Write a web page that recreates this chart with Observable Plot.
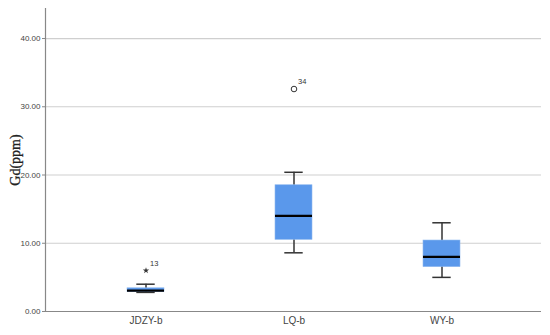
<!DOCTYPE html>
<html>
<head>
<meta charset="utf-8">
<script src="https://cdn.jsdelivr.net/npm/d3@7"></script>
<script src="https://cdn.jsdelivr.net/npm/@observablehq/plot@0.6"></script>
<style>
  html, body { margin: 0; padding: 0; background: #fff; }
  #chart { width: 550px; height: 335px; }
</style>
</head>
<body>
<div id="chart"></div>
<script>
const groups = ["JDZY-b", "LQ-b", "WY-b"];
const whiskerLow = [2.8, 8.6, 5.0];
const q1 = [2.85, 10.5, 6.5];
const median = [3.05, 14.0, 8.0];
const q3 = [3.4, 18.5, 10.4];
const whiskerHigh = [4.0, 20.4, 13.0];
const outlierGroup = ["JDZY-b", "LQ-b"];
const outlierValue = [6.0, 32.6];
const outlierLabel = ["13", "34"];
const outlierSymbol = ["star", "circle"];
const yTicks = [0, 10, 20, 30, 40];

const boxes = groups.map((g, i) => ({
  g, lo: whiskerLow[i], q1: q1[i], med: median[i], q3: q3[i], hi: whiskerHigh[i]
}));
const outliers = outlierGroup.map((g, i) => ({
  g, v: outlierValue[i], label: outlierLabel[i], sym: outlierSymbol[i]
}));

const chart = Plot.plot({
  width: 550,
  height: 335,
  marginTop: 8,
  marginBottom: 24,
  marginLeft: 45,
  marginRight: 9,
  style: { background: "#fff", fontFamily: "Liberation Sans, Arial, sans-serif" },
  x: { domain: groups, paddingInner: 0.75, paddingOuter: 0.54, label: null, axis: null },
  y: { domain: [0, 44.4], label: null, axis: null },
  marks: [
    Plot.ruleY(yTicks.filter(d => d > 0), { stroke: "#cfcfcf", strokeWidth: 1.2 }),
    Plot.ruleY([0], { stroke: "#888", strokeWidth: 1.2 }),
    Plot.frame({ anchor: "left", stroke: "#888", strokeWidth: 1.2 }),
    Plot.axisY({
      ticks: yTicks, tickFormat: d => d.toFixed(2), tickSize: 3, tickPadding: 2,
      fontSize: 8, fill: "#444", stroke: "#888",
      fontFamily: "Liberation Sans Narrow, Arial Narrow, Liberation Sans, sans-serif",
      label: null
    }),
    Plot.axisX({ tickSize: 0, tickPadding: 5, fontSize: 10, fill: "#444", label: null }),
    Plot.text(["Gd(ppm)"], {
      frameAnchor: "left", textAnchor: "middle", dx: -30, rotate: -90, fontSize: 14,
      fontFamily: "Liberation Serif, Times New Roman, serif", fill: "#222", stroke: "#222", strokeWidth: 0.3
    }),
    Plot.ruleX(boxes, { x: "g", y1: "lo", y2: "hi", stroke: "#333", strokeWidth: 1.5 }),
    Plot.tickY(boxes, { x: "g", y: "lo", stroke: "#333", strokeWidth: 1.5, inset: 9.3 }),
    Plot.tickY(boxes, { x: "g", y: "hi", stroke: "#333", strokeWidth: 1.5, inset: 9.3 }),
    Plot.barY(boxes, { x: "g", y1: "q1", y2: "q3", fill: "#5A98EB", stroke: "#8fb8ee", strokeWidth: 0.6 }),
    Plot.tickY(boxes, { x: "g", y: "med", stroke: "#000", strokeWidth: 2.2 }),
    Plot.dot(outliers.filter(d => d.sym === "circle"), { x: "g", y: "v", r: 2.8, stroke: "#333", strokeWidth: 1, fill: "none" }),
    Plot.dot(outliers.filter(d => d.sym === "star"), { x: "g", y: "v", r: 2, symbol: "star", fill: "#333", stroke: "none" }),
    Plot.text(outliers, { x: "g", y: "v", text: "label", dx: 4, dy: -7, textAnchor: "start", fontSize: 7.5, fill: "#333" })
  ]
});
document.getElementById("chart").appendChild(chart);
</script>
</body>
</html>
